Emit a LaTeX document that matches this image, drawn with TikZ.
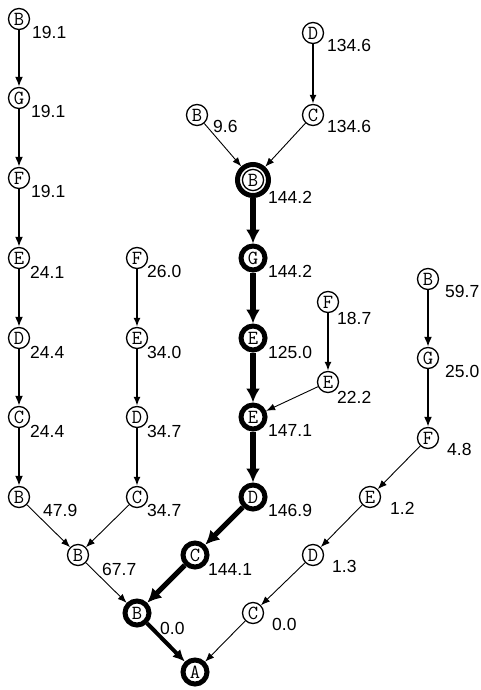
\documentclass[tikz,border=0pt]{standalone}
\usepackage{fontspec}
\setmainfont{Liberation Sans}
\usetikzlibrary{arrows.meta}

\begin{document}
\begin{tikzpicture}[
		x=1pt, y=-1pt,
		vtx/.style={draw, circle, line width=1.3pt, minimum size=21pt, inner sep=0pt, font=\ttfamily\fontsize{20}{20}\selectfont},
		bestvtx/.style={vtx, line width=5pt, minimum size=24pt},
		rootvtx/.style={bestvtx, minimum size=31pt, path picture={\draw[line width=1.3pt] (path picture bounding box.center) circle (10.6pt);}},
		lbl/.style={anchor=west, inner sep=0pt, font=\fontsize{17.5}{18}\selectfont},
		thinarc/.style={-{Latex[length=9pt, width=7pt]}, line width=0.9pt},
		midarc/.style={-{Latex[length=9pt, width=7pt]}, line width=2pt},
		widearc/.style={-{Latex[length=10pt, width=8pt]}, line width=2.6pt},
		bestarc/.style={-{Latex[length=14pt, width=14pt]}, line width=6pt}
	]
	\useasboundingbox (0,0) rectangle (480,690);

	% Nodes
	\node[vtx] (b1) at (19,19) {B};
	\node[vtx] (g1) at (19,98) {G};
	\node[vtx] (f1) at (19,178) {F};
	\node[vtx] (e1) at (19,258) {E};
	\node[vtx] (d1) at (19,338) {D};
	\node[vtx] (c1) at (19,417) {C};
	\node[vtx] (b2) at (19,497) {B};

	\node[vtx] (f2) at (137,258) {F};
	\node[vtx] (e2) at (137,338) {E};
	\node[vtx] (d2) at (137,417) {D};
	\node[vtx] (c2) at (137,497) {C};
	\node[vtx] (b3) at (78,555) {B};

	\node[vtx] (d3) at (313,33) {D};
	\node[vtx] (c3) at (313,115) {C};
	\node[vtx] (b5) at (197,115) {B};
	\node[rootvtx] (b0) at (253,180) {B};
	\node[bestvtx] (g3) at (253,258) {G};
	\node[bestvtx] (e3) at (253,338) {E};
	\node[bestvtx] (e4) at (253,417) {E};
	\node[bestvtx] (d4) at (253,497) {D};
	\node[bestvtx] (c4) at (195,555) {C};
	\node[bestvtx] (b4) at (137,613) {B};
	\node[bestvtx] (a) at (195,672) {A};

	\node[vtx] (f4) at (328,302) {F};
	\node[vtx] (e5) at (328,382) {E};

	\node[vtx] (b6) at (428,279) {B};
	\node[vtx] (g4) at (428,358) {G};
	\node[vtx] (f5) at (428,438) {F};
	\node[vtx] (e6) at (370,497) {E};
	\node[vtx] (d5) at (313,555) {D};
	\node[vtx] (c5) at (253,613) {C};

	% Weights
	\node[lbl] (l-b1) at ([shift={(13,13)}]b1.center) {19.1};
	\node[lbl] (l-g1) at ([shift={(12,13)}]g1.center) {19.1};
	\node[lbl] (l-f1) at ([shift={(12,13)}]f1.center) {19.1};
	\node[lbl] (l-e1) at ([shift={(11,14)}]e1.center) {24.1};
	\node[lbl] (l-d1) at ([shift={(11,14)}]d1.center) {24.4};
	\node[lbl] (l-c1) at ([shift={(11,14)}]c1.center) {24.4};
	\node[lbl] (l-b2) at ([shift={(24,13)}]b2.center) {47.9};
	\node[lbl] (l-f2) at ([shift={(10,13)}]f2.center) {26.0};
	\node[lbl] (l-e2) at ([shift={(10,14)}]e2.center) {34.0};
	\node[lbl] (l-d2) at ([shift={(10,14)}]d2.center) {34.7};
	\node[lbl] (l-c2) at ([shift={(10,13)}]c2.center) {34.7};
	\node[lbl] (l-b3) at ([shift={(24,14)}]b3.center) {67.7};
	\node[lbl] (l-d3) at ([shift={(14,12)}]d3.center) {134.6};
	\node[lbl] (l-c3) at ([shift={(14,11)}]c3.center) {134.6};
	\node[lbl] (l-b5) at ([shift={(16,11)}]b5.center) {9.6};
	\node[lbl] (l-b0) at ([shift={(15,17)}]b0.center) {144.2};
	\node[lbl] (l-g3) at ([shift={(15,13)}]g3.center) {144.2};
	\node[lbl] (l-e3) at ([shift={(15,14)}]e3.center) {125.0};
	\node[lbl] (l-e4) at ([shift={(15,13)}]e4.center) {147.1};
	\node[lbl] (l-d4) at ([shift={(15,13)}]d4.center) {146.9};
	\node[lbl] (l-c4) at ([shift={(13,14)}]c4.center) {144.1};
	\node[lbl] (l-b4) at ([shift={(23,15)}]b4.center) {0.0};
	\node[lbl] (l-f4) at ([shift={(9,16)}]f4.center) {18.7};
	\node[lbl] (l-e5) at ([shift={(9,15)}]e5.center) {22.2};
	\node[lbl] (l-b6) at ([shift={(17,12)}]b6.center) {59.7};
	\node[lbl] (l-g4) at ([shift={(17,13)}]g4.center) {25.0};
	\node[lbl] (l-f5) at ([shift={(19,11)}]f5.center) {4.8};
	\node[lbl] (l-e6) at ([shift={(20,11)}]e6.center) {1.2};
	\node[lbl] (l-d5) at ([shift={(19,11)}]d5.center) {1.3};
	\node[lbl] (l-c5) at ([shift={(19,11)}]c5.center) {0.0};

	% Arrows
	\draw[widearc] (b1) -- (g1);
	\draw[widearc] (g1) -- (f1);
	\draw[widearc] (f1) -- (e1);
	\draw[widearc] (e1) -- (d1);
	\draw[widearc] (d1) -- (c1);
	\draw[widearc] (c1) -- (b2);
	\draw[thinarc] (b2) -- (b3);

	\draw[midarc] (f2) -- (e2);
	\draw[midarc] (e2) -- (d2);
	\draw[midarc] (d2) -- (c2);
	\draw[thinarc] (c2) -- (b3);
	\draw[thinarc] (b3) -- (b4);

	\draw[midarc] (d3) -- (c3);
	\draw[thinarc] (c3) -- (b0);
	\draw[thinarc] (b5) -- (b0);
	\draw[bestarc] (b0) -- (g3);
	\draw[bestarc] (g3) -- (e3);
	\draw[bestarc] (e3) -- (e4);
	\draw[bestarc] (e4) -- (d4);
	\draw[bestarc, line width=5pt] (d4) -- (c4);
	\draw[bestarc, line width=5pt] (c4) -- (b4);
	\draw[bestarc, line width=4pt, -{Latex[length=12pt, width=11pt]}] (b4) -- (a);

	\draw[midarc] (f4) -- (e5);
	\draw[thinarc] (e5) -- (e4);

	\draw[widearc] (b6) -- (g4);
	\draw[widearc] (g4) -- (f5);
	\draw[thinarc] (f5) -- (e6);
	\draw[thinarc] (e6) -- (d5);
	\draw[thinarc] (d5) -- (c5);
	\draw[thinarc] (c5) -- (a);

\end{tikzpicture}
\end{document}
